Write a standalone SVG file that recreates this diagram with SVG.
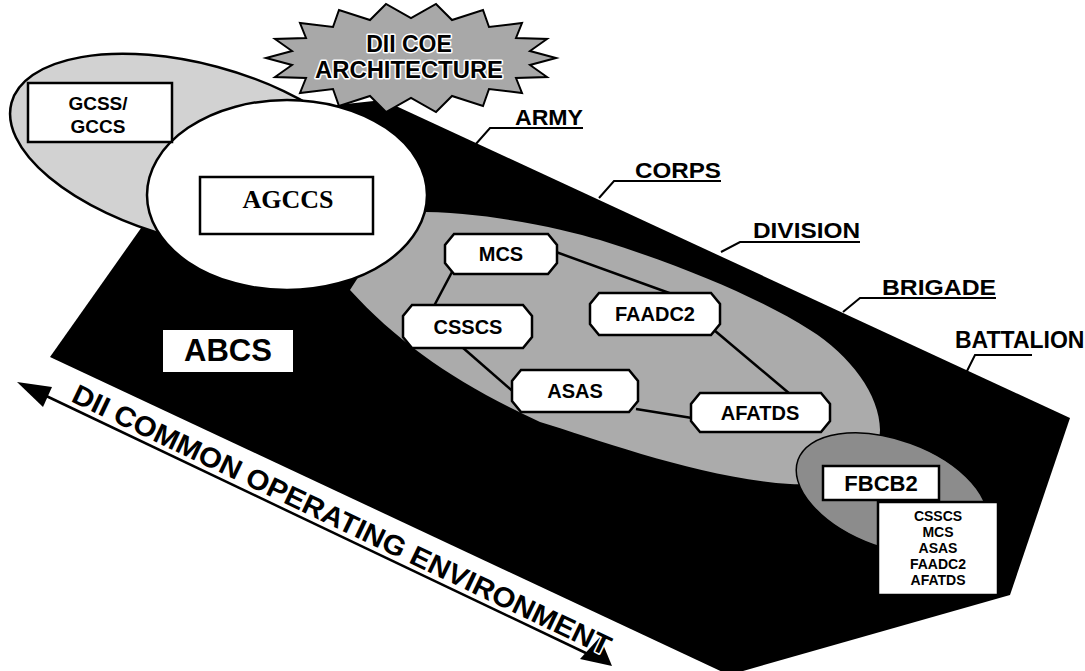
<svg xmlns="http://www.w3.org/2000/svg" width="1085" height="671" viewBox="0 0 1085 671">
<style>
.bg{fill:#ffffff}
.lbl{font-family:"Liberation Sans",Arial,sans-serif;font-weight:bold;fill:#000}
.node{fill:#fff;stroke:#000;stroke-width:2.5}
.ntxt{font-family:"Liberation Sans",Arial,sans-serif;font-weight:bold;font-size:20px;fill:#000;text-anchor:middle}
.box{fill:#fff;stroke:#000;stroke-width:2.5}
.lead{fill:none;stroke:#000;stroke-width:2}
.edge{stroke:#000;stroke-width:2.5;fill:none}
.halo{stroke:#fff;stroke-width:3;paint-order:stroke;stroke-linejoin:round}
</style>
<rect class="bg" x="0" y="0" width="1085" height="671"/>

<g id="layers">
  <polygon id="abcs-plane" points="383,100 1070,418 1010,595 729,675 50,357 175,180 290,110" fill="#000"/>
  <ellipse id="gcss-ellipse" cx="195" cy="152" rx="190" ry="88" transform="rotate(15 195 152)" fill="#d2d2d2" stroke="#000" stroke-width="2.5"/>
  <path id="division-ellipse" d="M400,212 C480,210 560,228 600,240 C680,265 760,298 810,330 C850,355 880,395 880,430 C880,465 840,487 790,484 C700,478 600,440 540,422 C460,385 400,345 350,290 Z" fill="#ababab"/>
  <ellipse id="fbcb2-ellipse" cx="892" cy="494" rx="100" ry="54" transform="rotate(20 892 494)" fill="#8c8c8c" stroke="#000" stroke-width="1.5"/>
  <ellipse id="agccs-ellipse" cx="287" cy="195" rx="140" ry="95" fill="#fff" stroke="#000" stroke-width="2.5"/>
</g>

<g id="star">
  <path d="M556,58 L530,65 L547,77 L516,78 L522,93 L489,89 L483,106 L452,96 L436,112 L411,98 L386,112 L370,96 L339,106 L333,89 L300,93 L306,78 L275,77 L292,65 L266,58 L292,51 L275,39 L306,38 L300,23 L333,27 L339,10 L370,20 L386,4 L411,18 L436,4 L452,20 L483,10 L489,27 L522,23 L516,38 L547,39 L530,51 Z" fill="#a8a8a8" stroke="#000" stroke-width="2"/>
  <text class="lbl halo" x="409" y="52" font-size="23" text-anchor="middle">DII COE</text>
  <text class="lbl halo" x="409" y="78" font-size="23" text-anchor="middle" textLength="188" lengthAdjust="spacingAndGlyphs">ARCHITECTURE</text>
</g>

<g id="gcss">
  <rect class="box" x="28" y="83" width="144" height="59"/>
  <text class="lbl" x="98" y="110" font-size="19" text-anchor="middle">GCSS/</text>
  <text class="lbl" x="98" y="133" font-size="19" text-anchor="middle">GCCS</text>
</g>

<g id="agccs">
  <rect class="box" x="200" y="177" width="173" height="57"/>
  <text x="288" y="208" font-family="'Liberation Serif','Times New Roman',serif" font-weight="bold" font-size="26" text-anchor="middle">AGCCS</text>
</g>

<g id="abcs">
  <rect x="163" y="330" width="130" height="42" fill="#fff"/>
  <text class="lbl" x="228" y="361" font-size="31" text-anchor="middle">ABCS</text>
</g>

<g id="connectors">
  <line class="edge" x1="452" y1="272" x2="434" y2="306"/>
  <line class="edge" x1="556" y1="252" x2="672" y2="294"/>
  <line class="edge" x1="462" y1="347" x2="517" y2="395"/>
  <line class="edge" x1="714" y1="330" x2="790" y2="394"/>
  <line class="edge" x1="636" y1="409" x2="692" y2="418"/>
</g>

<g id="node-mcs">
  <path class="node" d="M454,234 H548 L557,245 V263 L548,274 H454 L445,263 V245 Z"/>
  <text class="ntxt" x="501" y="261">MCS</text>
</g>
<g id="node-csscs">
  <path class="node" d="M412,305 H523 L532,316 V337 L523,348 H412 L403,337 V316 Z"/>
  <text class="ntxt" x="468" y="334">CSSCS</text>
</g>
<g id="node-faadc2">
  <path class="node" d="M599,293 H711 L720,304 V324 L711,335 H599 L590,324 V304 Z"/>
  <text class="ntxt" x="655" y="321">FAADC2</text>
</g>
<g id="node-asas">
  <path class="node" d="M521,370 H629 L638,381 V401 L629,412 H521 L512,401 V381 Z"/>
  <text class="ntxt" x="575" y="398" font-size="18">ASAS</text>
</g>
<g id="node-afatds">
  <path class="node" d="M700,393 H821 L830,404 V421 L821,432 H700 L691,421 V404 Z"/>
  <text class="ntxt" x="760" y="420">AFATDS</text>
</g>

<g id="fbcb2">
  <rect class="box" x="823" y="466" width="116" height="34" stroke-width="2"/>
  <text class="lbl" x="881" y="491" font-size="22" text-anchor="middle">FBCB2</text>
  <rect class="box" x="878" y="502" width="120" height="93" stroke-width="1.5"/>
  <g class="lbl" font-size="14" text-anchor="middle">
    <text x="938" y="521">CSSCS</text>
    <text x="938" y="537">MCS</text>
    <text x="938" y="553">ASAS</text>
    <text x="938" y="569">FAADC2</text>
    <text x="938" y="585">AFATDS</text>
  </g>
</g>

<g id="echelon-labels">
  <polyline class="lead" points="475,145 490,128 583,128"/>
  <text class="lbl" x="515" y="125" font-size="22" textLength="68" lengthAdjust="spacingAndGlyphs">ARMY</text>
  <polyline class="lead" points="599,198 614,181 721,181"/>
  <text class="lbl" x="635" y="178" font-size="22" textLength="86" lengthAdjust="spacingAndGlyphs">CORPS</text>
  <polyline class="lead" points="721,252 740,242 860,242"/>
  <text class="lbl" x="753" y="238" font-size="22" textLength="107" lengthAdjust="spacingAndGlyphs">DIVISION</text>
  <polyline class="lead" points="843,312 860,298 996,298"/>
  <text class="lbl" x="882" y="295" font-size="22" textLength="114" lengthAdjust="spacingAndGlyphs">BRIGADE</text>
  <polyline class="lead" points="966,373 975,355 1032,355"/>
  <text class="lbl" x="955" y="348" font-size="23">BATTALION</text>
</g>

<g id="coe-arrow">
  <line x1="40" y1="393" x2="590" y2="655" stroke="#000" stroke-width="2.5"/>
  <polygon points="17,382 52,387 43,407" fill="#000"/>
  <polygon points="612,666 580,659 600,637" fill="#000"/>
  <text class="lbl halo" font-size="28" transform="translate(70,401) rotate(25.5)" textLength="593" lengthAdjust="spacingAndGlyphs">DII COMMON OPERATING ENVIRONMENT</text>
</g>
</svg>
